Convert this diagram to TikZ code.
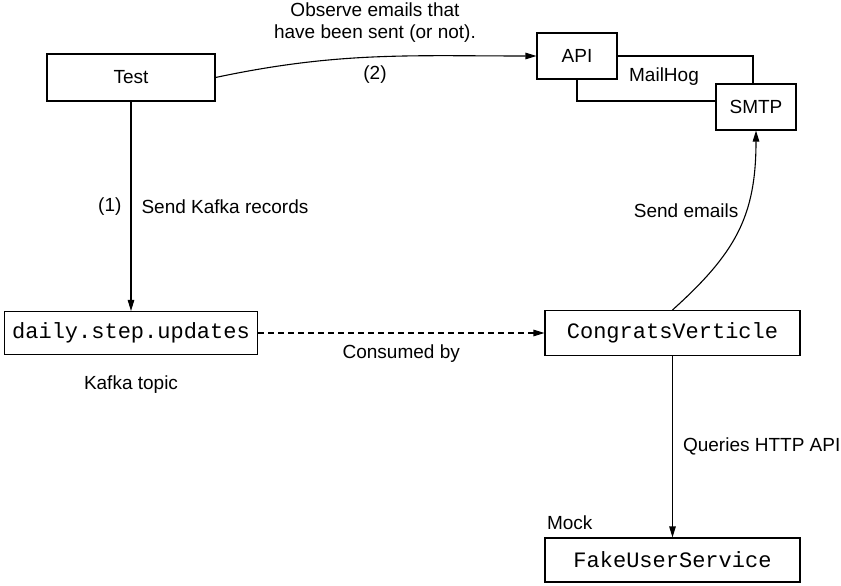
\documentclass[tikz,border=0pt]{standalone}
\usepackage{fontspec}
\setmainfont{Liberation Sans}
\setmonofont{Liberation Mono}
\usetikzlibrary{positioning,arrows.meta}

\tikzset{
  box/.style={draw, line width=1.1pt, inner sep=0pt, font=\fontsize{19}{22}\selectfont},
  codebox/.style={box, font=\fontsize{22}{25}\selectfont\ttfamily},
  lbl/.style={font=\fontsize{19}{22}\selectfont, inner sep=2pt},
}

\begin{document}
\begin{tikzpicture}[x=1pt, y=-1pt, node distance=100pt, on grid, line width=1.1pt,
    >={Triangle[length=11pt,width=6.5pt]}]
		\useasboundingbox (0,0) rectangle (841,586);

		\node[box, minimum width=168pt, minimum height=47pt](test) at (131,77.5) {Test};
		\node[codebox, minimum width=253pt, minimum height=43pt](topic)[below=255.5pt of test] {daily.step.updates};
		\node[codebox, minimum width=255pt, minimum height=45pt](congrats)[right=541.5pt of topic] {CongratsVerticle};
		\node[codebox, minimum width=255pt, minimum height=44pt](fake)[below=227pt of congrats] {FakeUserService};
		\node[box, minimum width=80pt, minimum height=46pt](api) at (577,56) {API};
		\node[box, minimum width=80pt, minimum height=46pt](smtp)[below right=51pt and 179pt of api] {SMTP};

		% MailHog group
		\draw (api.east) -| ([xshift=-3pt]smtp.north);
		\draw (api.south) |- ([yshift=6pt]smtp.west);
		\node[lbl](mailhog) at (664,77) {MailHog};

		\node[lbl, anchor=north](kafka) at ([yshift=-18pt]topic.south) {Kafka topic};
		\node[lbl, anchor=south west](mock) at ([yshift=5pt]fake.north west) {Mock};

		\draw[->] (test) -- node[lbl, left=7pt]{(1)} node[lbl, right=8pt]{Send Kafka records} (topic);
		\draw[->, dash pattern=on 6pt off 4pt] (topic) -- node[lbl, below=9pt]{Consumed by} (congrats);
		\draw[->] (test.east) to[out=12, in=180]
			node[lbl, pos=0.5, below=6pt]{(2)}
			node[lbl, pos=0.5, above=12pt, align=center]{Observe emails that\\have been sent (or not).} (api.west);
		\draw[->] (congrats.north) to[out=42, in=-90, looseness=1.1] node[lbl, pos=0.62, left=5pt]{Send emails} (smtp.south);
		\draw[->] (congrats) -- node[lbl, right=8pt]{Queries HTTP API} (fake);
	\end{tikzpicture}
\end{document}
